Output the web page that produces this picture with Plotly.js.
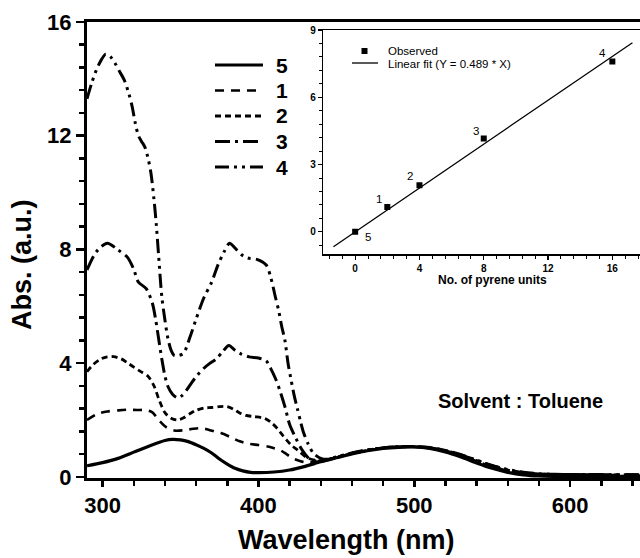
<!DOCTYPE html>
<html>
<head>
<meta charset="utf-8">
<script src="https://cdn.plot.ly/plotly-3.0.1.min.js"></script>
<style>
  html, body { margin: 0; padding: 0; overflow: hidden; background: #fff; }
  #chart { width: 650px; height: 558px; }
</style>
</head>
<body>
<div id="chart"></div>
<script>
// ---- UV-vis absorption spectra (toluene) ----
const seriesNames = ['5', '1', '2', '3', '4'];

const wl5 = [290,300,310,320,330,340,345,350,355,360,365,370,375,380,385,390,395,400,410,420,430,440,
             450,460,470,480,490,500,510,520,530,540,550,560,570,580,590,600,620,650];
const abs5 = [0.39,0.50,0.65,0.87,1.09,1.28,1.32,1.30,1.24,1.13,1.00,0.84,0.63,0.45,0.30,0.21,0.16,0.15,0.17,0.24,0.37,0.53,
              0.67,0.81,0.92,1.00,1.04,1.05,1.00,0.88,0.70,0.49,0.30,0.16,0.07,0.03,0.02,0.02,0.02,0.02];

const wl1 = [290,296,303,310,316,322,328,332,336,341,346,352,358,363,368,372,376,382,388,394,400,406,410,414,418,422,427,432,438,444,
             450,460,470,480,490,500,510,520,530,540,550,560,570,580,590,600,620,640,650];
const abs1 = [2.00,2.20,2.30,2.34,2.36,2.35,2.35,2.27,2.00,1.74,1.63,1.64,1.69,1.71,1.66,1.59,1.54,1.40,1.25,1.16,1.12,1.07,1.01,0.94,0.80,0.65,0.55,0.50,0.54,0.61,
              0.68,0.82,0.93,1.01,1.05,1.06,1.01,0.91,0.75,0.55,0.36,0.22,0.13,0.09,0.08,0.07,0.07,0.06,0.06];

const wl2 = [290,294,299,303,307,312,316,320,324,329,333,336,340,344,348,352,356,360,365,370,375,380,384,388,392,397,404,408,412,415,418,421,425,431,437,443,
             450,460,470,480,490,500,510,520,530,540,550,560,570,580,590,600,620,640,650];
const abs2 = [3.70,3.95,4.15,4.22,4.23,4.15,4.01,3.86,3.72,3.55,3.20,2.75,2.26,2.06,2.00,2.08,2.22,2.34,2.42,2.44,2.47,2.47,2.38,2.25,2.16,2.12,2.06,1.92,1.71,1.50,1.30,1.12,0.95,0.68,0.58,0.59,
              0.69,0.83,0.94,1.02,1.06,1.06,1.02,0.92,0.76,0.57,0.38,0.24,0.14,0.10,0.08,0.08,0.07,0.06,0.06];

const wl3 = [290,296,303,310,316,320,323,328,332,334,336,338,340,342,345,348,351,354,357,361,365,369,373,377,381,385,389,394,400,405,408,411,414,417,420,424,428,433,438,444,
             450,460,470,480,490,500,510,520,530,540,550,560,570,580,590,600,620,640,650];
const abs3 = [7.28,7.92,8.22,7.98,7.72,7.30,6.85,6.62,6.10,5.55,4.85,4.15,3.55,3.17,2.90,2.78,2.86,3.06,3.30,3.59,3.82,4.00,4.15,4.40,4.62,4.45,4.32,4.22,4.18,4.08,3.80,3.45,3.00,2.47,1.85,1.36,0.95,0.62,0.55,0.59,
              0.69,0.83,0.94,1.02,1.06,1.06,1.02,0.93,0.77,0.58,0.39,0.25,0.15,0.10,0.09,0.08,0.07,0.07,0.07];

const wl4 = [290,293,296,299,302,305,308,311,314,317,319,321,323,325,327,329,331,333,334.5,336,338,340,342,344,346,349,352,356,360,365,370,374,378,381.5,385,389,393,399,405,408,411,413,415,417,419,421,423,425,427,429,432,435,440,445,
             450,460,470,480,490,500,510,520,530,540,550,560,570,580,590,600,620,640,650];
const abs4 = [13.30,13.85,14.31,14.65,14.87,14.78,14.55,14.25,13.95,13.45,13.02,12.44,12.00,11.80,11.62,11.25,10.70,9.75,8.85,7.75,6.34,5.52,4.85,4.45,4.27,4.27,4.35,4.90,5.55,6.30,6.85,7.45,7.92,8.22,8.05,7.82,7.70,7.65,7.45,7.00,6.30,5.85,5.28,4.80,4.00,3.40,2.85,2.40,1.95,1.55,1.15,0.85,0.65,0.62,
              0.70,0.84,0.95,1.02,1.06,1.07,1.03,0.93,0.78,0.59,0.40,0.26,0.16,0.11,0.09,0.08,0.08,0.07,0.07];

// ---- inset: absorbance vs. number of pyrene units ----
const pyreneUnits = [0, 2, 4, 8, 16];
const observedAbs = [0, 1.11, 2.08, 4.16, 7.6];
const pointLabels = ['5', '1', '2', '3', '4'];
const fitSlope = 0.489;
const fitX = [-1.35, 17.25];

// ---- styling ----
const FONT = 'Liberation Sans, Arial, Helvetica, sans-serif';
const curveStyle = {
  '5': { dash: 'solid', width: 3.2 },
  '1': { dash: '9px,7px', width: 2.6 },
  '2': { dash: '6px,4px', width: 2.8 },
  '3': { dash: '15px,5px,3px,5px', width: 3 },
  '4': { dash: '14px,5px,3px,5px,3px,5px', width: 3 }
};
const curveData = {
  '5': [wl5, abs5], '1': [wl1, abs1], '2': [wl2, abs2], '3': [wl3, abs3], '4': [wl4, abs4]
};

// page geometry (pixels)
const W = 650, H = 558;
const M = { l: 87, r: 2, t: 22, b: 80 };
const PW = W - M.l - M.r, PH = H - M.t - M.b;
const px = x => (x - M.l) / PW;           // pixel -> paper x
const py = y => (H - M.b - y) / PH;        // pixel -> paper y

const traces = seriesNames.map(name => ({
  type: 'scatter', mode: 'lines', name: name,
  x: curveData[name][0], y: curveData[name][1],
  xaxis: 'x', yaxis: 'y', showlegend: false, hoverinfo: 'skip',
  line: { color: '#000', width: curveStyle[name].width, dash: curveStyle[name].dash,
          shape: 'spline', smoothing: 0.8 }
}));

traces.push({
  type: 'scatter', mode: 'lines', name: 'Linear fit',
  x: fitX, y: fitX.map(v => fitSlope * v),
  xaxis: 'x2', yaxis: 'y2', showlegend: false, hoverinfo: 'skip',
  line: { color: '#000', width: 1.3 }
});
traces.push({
  type: 'scatter', mode: 'markers', name: 'Observed',
  x: pyreneUnits, y: observedAbs,
  xaxis: 'x2', yaxis: 'y2', showlegend: false, hoverinfo: 'skip',
  marker: { symbol: 'square', size: 6, color: '#000' }
});

// main legend: line samples + labels
const shapes = [];
const annotations = [];
const legendRows = [65, 90.5, 116, 141.5, 167];
seriesNames.forEach((name, i) => {
  shapes.push({ type: 'line', xref: 'paper', yref: 'paper',
    x0: px(215), x1: px(263), y0: py(legendRows[i]), y1: py(legendRows[i]),
    line: { color: '#000', width: curveStyle[name].width, dash: curveStyle[name].dash } });
  annotations.push({ xref: 'paper', yref: 'paper', x: px(274), y: py(legendRows[i]),
    xanchor: 'left', yanchor: 'middle', showarrow: false, text: name,
    font: { family: FONT, size: 21, weight: 'bold', color: '#000' } });
});

// inset legend
shapes.push({ type: 'rect', xref: 'paper', yref: 'paper',
  x0: px(361.5), x1: px(367.5), y0: py(54), y1: py(48),
  fillcolor: '#000', line: { width: 0 } });
shapes.push({ type: 'line', xref: 'paper', yref: 'paper',
  x0: px(352), x1: px(378), y0: py(63), y1: py(63), line: { color: '#000', width: 1.3 } });
annotations.push({ xref: 'paper', yref: 'paper', x: px(386), y: py(51), xanchor: 'left', yanchor: 'middle',
  showarrow: false, text: 'Observed', font: { family: FONT, size: 11.5, color: '#000' } });
annotations.push({ xref: 'paper', yref: 'paper', x: px(386), y: py(63.5), xanchor: 'left', yanchor: 'middle',
  showarrow: false, text: 'Linear fit (Y = ' + fitSlope + ' * X)', font: { family: FONT, size: 11.5, color: '#000' } });

// inset point labels
const labelShift = [[13, -5], [-8, 7.5], [-9, 9], [-8, 8], [-10, 8]];
pointLabels.forEach((t, i) => {
  annotations.push({ xref: 'x2', yref: 'y2', x: pyreneUnits[i], y: observedAbs[i],
    xshift: labelShift[i][0], yshift: labelShift[i][1], showarrow: false, text: t,
    font: { family: FONT, size: 11.5, color: '#000' } });
});

// titles and note
annotations.push({ xref: 'paper', yref: 'paper', x: px(346), y: py(540), xanchor: 'center', yanchor: 'middle',
  showarrow: false, text: 'Wavelength (nm)', font: { family: FONT, size: 27, weight: 'bold', color: '#000' } });
annotations.push({ xref: 'paper', yref: 'paper', x: px(22), y: py(265), xanchor: 'center', yanchor: 'middle',
  showarrow: false, textangle: -90, text: 'Abs. (a.u.)', font: { family: FONT, size: 27, weight: 'bold', color: '#000' } });
annotations.push({ xref: 'paper', yref: 'paper', x: px(520), y: py(401), xanchor: 'center', yanchor: 'middle',
  showarrow: false, text: 'Solvent : Toluene', font: { family: FONT, size: 20, weight: 'bold', color: '#000' } });
annotations.push({ xref: 'paper', yref: 'paper', x: px(492), y: py(279.5), xanchor: 'center', yanchor: 'middle',
  showarrow: false, text: 'No. of pyrene units', font: { family: FONT, size: 12, weight: 'bold', color: '#000' } });

const mainTick = { family: FONT, size: 22, weight: 'bold', color: '#000' };
const insetTick = { family: FONT, size: 10, weight: 'bold', color: '#000' };

const layout = {
  width: W, height: H,
  margin: M,
  paper_bgcolor: '#fff', plot_bgcolor: 'rgba(0,0,0,0)',
  showlegend: false,
  xaxis: {
    range: [290, 650], tick0: 0, dtick: 100, ticks: 'outside', ticklen: 6, tickwidth: 2.5,
    tickcolor: '#000', tickfont: mainTick, showline: true, linewidth: 3, linecolor: '#000',
    mirror: true, showgrid: false, zeroline: false,
    minor: { dtick: 20, tick0: 0, ticks: 'outside', ticklen: 5, tickwidth: 2.5, tickcolor: '#000', showgrid: false }
  },
  yaxis: {
    range: [-0.04, 16], tick0: 0, dtick: 4, ticks: 'outside', ticklen: 8, tickwidth: 2.5,
    tickcolor: '#000', tickfont: mainTick, showline: true, linewidth: 3, linecolor: '#000',
    mirror: true, showgrid: false, zeroline: false,
    minor: { dtick: 0.8, tick0: 0, ticks: 'outside', ticklen: 5, tickwidth: 2.5, tickcolor: '#000', showgrid: false }
  },
  xaxis2: {
    domain: [px(323), px(644.5)], anchor: 'y2', range: [-2, 18], tick0: 0, dtick: 4,
    ticks: 'outside', ticklen: 4, tickwidth: 1.2, tickcolor: '#000', tickfont: insetTick,
    showline: true, linewidth: 1.3, linecolor: '#000', mirror: true, showgrid: false, zeroline: false,
    minor: { dtick: 0.8, tick0: 0, ticks: 'outside', ticklen: 3, tickwidth: 1, tickcolor: '#000', showgrid: false }
  },
  yaxis2: {
    domain: [py(254.3), py(30)], anchor: 'x2', range: [-1, 9], tick0: 0, dtick: 3,
    ticks: 'outside', ticklen: 4, tickwidth: 1.2, tickcolor: '#000', tickfont: insetTick,
    showline: true, linewidth: 1.3, linecolor: '#000', mirror: true, showgrid: false, zeroline: false,
    minor: { dtick: 0.6, tick0: 0, ticks: 'outside', ticklen: 3, tickwidth: 1, tickcolor: '#000', showgrid: false }
  },
  shapes: shapes,
  annotations: annotations
};

Plotly.newPlot('chart', traces, layout, { staticPlot: true, displayModeBar: false });
</script>
</body>
</html>
